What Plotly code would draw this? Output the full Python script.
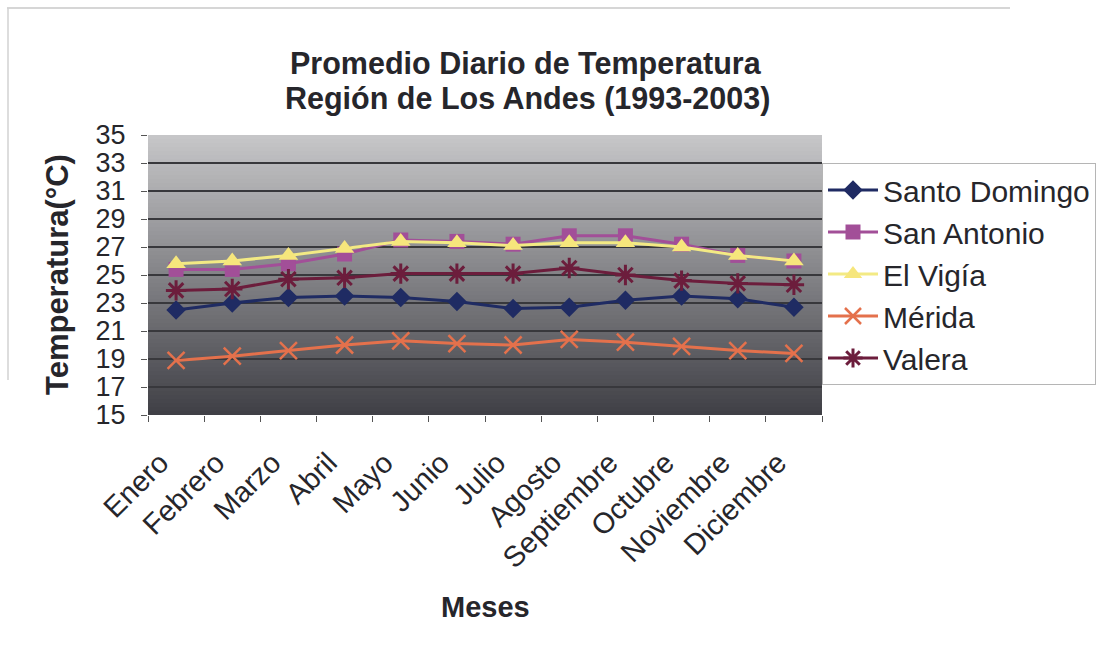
import plotly.graph_objects as go

# Monthly mean daily temperature (°C), Andes region stations, 1993-2003
meses = ["Enero", "Febrero", "Marzo", "Abril", "Mayo", "Junio", "Julio",
         "Agosto", "Septiembre", "Octubre", "Noviembre", "Diciembre"]

santo_domingo = [22.5, 23.0, 23.4, 23.5, 23.4, 23.1, 22.6, 22.7, 23.2, 23.5, 23.3, 22.7]
san_antonio = [25.4, 25.4, 25.8, 26.5, 27.5, 27.4, 27.2, 27.8, 27.8, 27.2, 26.4, 26.0]
el_vigia = [25.8, 26.0, 26.4, 26.9, 27.4, 27.3, 27.1, 27.3, 27.3, 27.0, 26.4, 26.0]
merida = [18.9, 19.2, 19.6, 20.0, 20.3, 20.1, 20.0, 20.4, 20.2, 19.9, 19.6, 19.4]
valera = [23.9, 24.0, 24.7, 24.8, 25.1, 25.1, 25.1, 25.5, 25.0, 24.6, 24.4, 24.3]

y_ticks = list(range(15, 36, 2))

FONT = "Liberation Sans, Arial, sans-serif"
TXT = "#26262b"

series = [
    ("Santo Domingo", santo_domingo, "#1f2b63", dict(symbol="diamond", size=15, color="#1f2b63")),
    ("San Antonio", san_antonio, "#a24f98", dict(symbol="square", size=15, color="#a24f98")),
    ("El Vigía", el_vigia, "#f3ea84", dict(symbol="triangle-up", size=17, color="#f6e67c")),
    ("Mérida", merida, "#e4714c", dict(symbol="x-thin-open", size=17, color="#e4714c",
                                        line=dict(width=2.5, color="#e4714c"))),
    ("Valera", valera, "#6c1d3c", dict(symbol="asterisk-open", size=17, color="#6c1d3c",
                                        line=dict(width=3, color="#6c1d3c"))),
]

fig = go.Figure()
for name, vals, col, mk in series:
    fig.add_trace(go.Scatter(
        x=meses, y=vals, name=name, mode="lines+markers",
        line=dict(color=col, width=3), marker=mk,
    ))

# Vertical grey gradient behind the plot area
shapes = []
n = 70
top = (198, 198, 200)
bot = (64, 64, 70)
for i in range(n):
    t = i / (n - 1)
    c = tuple(round(top[k] + (bot[k] - top[k]) * t) for k in range(3))
    shapes.append(dict(
        type="rect", xref="x domain", yref="y domain", layer="below",
        x0=0, x1=1, y0=1 - (i + 1) / n, y1=1 - i / n,
        fillcolor=f"rgb{c}", line=dict(width=0),
    ))

# Faint outer frame lines
shapes.append(dict(type="line", xref="paper", yref="paper",
                   x0=(7 - 148) / 674, x1=(1010 - 148) / 674,
                   y0=(415 - 8) / 280, y1=(415 - 8) / 280,
                   line=dict(color="#c9c9c9", width=1.5)))
shapes.append(dict(type="line", xref="paper", yref="paper",
                   x0=(8 - 148) / 674, x1=(8 - 148) / 674,
                   y0=(415 - 8) / 280, y1=(415 - 380) / 280,
                   line=dict(color="#d2d2d2", width=1.5)))

annotations = [
    dict(text="<b>Promedio Diario de Temperatura</b>", xref="paper", yref="paper",
         x=(526 - 148) / 674, y=(415 - 63.5) / 280, xanchor="center", yanchor="middle",
         showarrow=False, font=dict(family=FONT, size=30.5, color=TXT)),
    dict(text="<b>Región de Los Andes (1993-2003)</b>", xref="paper", yref="paper",
         x=(527 - 148) / 674, y=(415 - 98) / 280, xanchor="center", yanchor="middle",
         showarrow=False, font=dict(family=FONT, size=30.5, color=TXT)),
    dict(text="<b>Temperatura(°C)</b>", xref="paper", yref="paper",
         x=(57 - 148) / 674, y=0.5, xanchor="center", yanchor="middle", textangle=-90,
         showarrow=False, font=dict(family=FONT, size=31, color=TXT)),
    dict(text="<b>Meses</b>", xref="paper", yref="paper",
         x=(485 - 148) / 674, y=(415 - 607) / 280, xanchor="center", yanchor="middle",
         showarrow=False, font=dict(family=FONT, size=29, color=TXT)),
]

fig.update_layout(
    width=1109, height=653,
    margin=dict(l=148, r=287, t=135, b=238),
    paper_bgcolor="white", plot_bgcolor="#8a8a8e",
    font=dict(family=FONT, color=TXT),
    showlegend=True,
    legend=dict(
        x=1.0, xanchor="left", y=(415 - 163) / 280, yanchor="top",
        bgcolor="white", bordercolor="#b5b5b5", borderwidth=1,
        font=dict(family=FONT, size=30, color=TXT),
        itemwidth=50, traceorder="normal",
    ),
    shapes=shapes,
    annotations=annotations,
)

fig.update_xaxes(
    type="category", range=[-0.5, 11.5], tickangle=-45,
    tickfont=dict(family=FONT, size=29, color=TXT),
    ticks="outside", ticklen=6, tickcolor="#555", tickson="boundaries",
    showline=False, showgrid=False, ticklabelstandoff=24, ticklabelshift=-16,
)
fig.update_yaxes(
    range=[15, 35], tickvals=y_ticks, ticktext=[str(v) for v in y_ticks],
    tickfont=dict(family=FONT, size=27, color=TXT),
    ticks="outside", ticklen=6, tickcolor="#555",
    showgrid=True, gridcolor="#38383c", gridwidth=1.5,
    zeroline=False, showline=False, ticklabelstandoff=10,
)

fig.write_html("out.html")
